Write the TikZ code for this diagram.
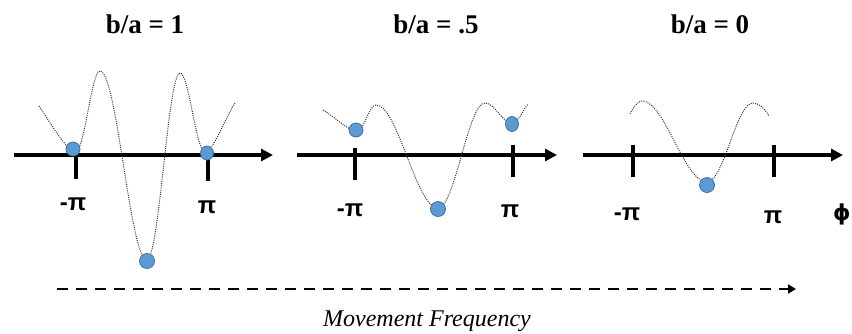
\documentclass[tikz,border=0pt]{standalone}
\usepackage{fontspec}
\setmainfont{Liberation Serif}
\newfontfamily\labfont{Liberation Sans}
\newfontfamily\phifont{DejaVu Sans}
\usetikzlibrary{arrows.meta}
\definecolor{ballblue}{HTML}{5B9BD5}
\definecolor{ballrim}{HTML}{41719C}
\begin{document}
\begin{tikzpicture}[x=1pt,y=-1pt,
  axis/.style={line width=3.5pt,-{Triangle[length=12pt,width=12pt]}},
  tickmark/.style={line width=3.5pt},
  pot/.style={line width=1pt,black!80,dash pattern=on 1pt off 1.2pt},
  ball/.style={fill=ballblue,draw=ballrim,line width=0.8pt},
  title/.style={font=\fontsize{27}{32}\selectfont\bfseries,anchor=base,inner sep=0pt},
  lab/.style={font=\labfont\fontsize{24}{28}\selectfont\bfseries,inner sep=0pt},
  freq/.style={line width=2.5pt,dash pattern=on 11pt off 8pt,-{Triangle[length=8pt,width=9pt]}}
]
\useasboundingbox (0,0) rectangle (852,333);

% titles
\node[title] (t1) at (145,33) {b/a = 1};
\node[title] (t2) at (436,33) {b/a = .5};
\node[title] (t3) at (710,33) {b/a = 0};

% ---------- panel 1 ----------
\coordinate (a1s) at (14,155);
\coordinate (a1e) at (273,155);
\draw[axis] (a1s) -- (a1e);
\coordinate (k1a) at (76,155); \coordinate (k1b) at (76,179);
\coordinate (k1c) at (208,155); \coordinate (k1d) at (208,181);
\draw[tickmark] (k1a) -- (k1b);
\draw[tickmark] (k1c) -- (k1d);
\node[lab] (m1) at (73,204) {-π};
\node[lab] (p1) at (207,207) {π};
\draw[pot] (39,106) .. controls (52,125) and (66,151) .. (76,151)
  .. controls (84.6,151) and (91.4,71) .. (100,71)
  .. controls (117,71) and (130,260) .. (147,260)
  .. controls (159,260) and (168,73) .. (180,73)
  .. controls (189,73) and (196,152) .. (205,152)
  .. controls (213,152) and (225,118) .. (235,103);
\draw[ball] (73,149) circle (7);
\draw[ball] (147,261) circle (7.5);
\draw[ball] (207,153) ellipse (6.5 and 7);

% ---------- panel 2 ----------
\coordinate (a2s) at (297,155);
\coordinate (a2e) at (557,155);
\draw[axis] (a2s) -- (a2e);
\coordinate (k2a) at (355,148); \coordinate (k2b) at (355,180);
\coordinate (k2c) at (513,145); \coordinate (k2d) at (513,177);
\draw[tickmark] (k2a) -- (k2b);
\draw[tickmark] (k2c) -- (k2d);
\node[lab] (m2) at (350,210) {-π};
\node[lab] (p2) at (510,211) {π};
\draw[pot] (323,110) .. controls (335,117) and (348,131) .. (357,131)
  .. controls (364,131) and (369,105) .. (376,105)
  .. controls (398,105) and (416,208) .. (438,208)
  .. controls (455,208) and (468,103) .. (485,103)
  .. controls (495,103) and (502,123) .. (512,123)
  .. controls (518,123) and (523,110) .. (528,104);
\draw[ball] (356,130) circle (7);
\draw[ball] (438,209) circle (7.5);
\draw[ball] (512,124) ellipse (6.5 and 7.5);

% ---------- panel 3 ----------
\coordinate (a3s) at (583,155);
\coordinate (a3e) at (843,155);
\draw[axis] (a3s) -- (a3e);
\coordinate (k3a) at (633,145); \coordinate (k3b) at (633,177);
\coordinate (k3c) at (774,145); \coordinate (k3d) at (774,177);
\draw[tickmark] (k3a) -- (k3b);
\draw[tickmark] (k3c) -- (k3d);
\node[lab] (m3) at (627,214) {-π};
\node[lab] (p3) at (773,217) {π};
\node[font=\phifont\fontsize{22}{26}\selectfont\bfseries,inner sep=0pt] (phi) at (842,214) {ϕ};
\draw[pot] (630,114) .. controls (634,106) and (638,101) .. (642,101)
  .. controls (665,101) and (684,182) .. (707,182)
  .. controls (724,182) and (736,103) .. (753,103)
  .. controls (759,103) and (765,109) .. (769,116);
\draw[ball] (707,185) circle (7.5);

% ---------- movement frequency ----------
\coordinate (fs) at (57,289);
\coordinate (fe) at (796,289);
\draw[freq] (fs) -- (fe);
\node[font=\fontsize{24}{28}\selectfont\itshape,anchor=base,inner sep=0pt] (mf) at (427,326) {Movement Frequency};
\end{tikzpicture}
\end{document}
